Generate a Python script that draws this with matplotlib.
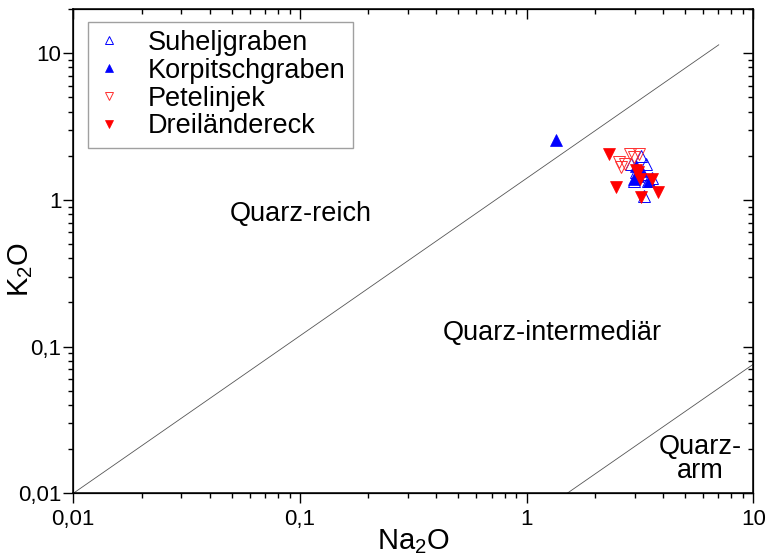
import matplotlib.pyplot as plt

plt.rcParams['font.family'] = ['Liberation Sans', 'DejaVu Sans']
plt.rcParams['mathtext.fontset'] = 'custom'
plt.rcParams['mathtext.rm'] = 'Liberation Sans'

# Na2O / K2O (wt%) per locality
suhel_na = [3.19, 3.37, 2.90, 2.98, 3.44, 3.30, 3.59, 3.05, 3.25]
suhel_k = [2.00, 1.76, 1.76, 1.34, 1.34, 1.07, 1.42, 1.55, 1.50]

korp_na = [1.35, 3.04, 2.98, 3.47, 3.19, 3.10]
korp_k = [2.56, 1.71, 1.39, 1.34, 1.58, 1.45]

petel_na = [2.85, 3.14, 2.73, 2.62, 2.98, 2.55]
petel_k = [2.04, 2.04, 1.76, 1.67, 1.95, 1.80]

drei_na = [2.30, 2.47, 3.78, 3.19, 3.57, 3.11, 3.05, 3.17]
drei_k = [2.06, 1.23, 1.14, 1.04, 1.39, 1.54, 1.60, 1.39]

# field boundaries
upper_na = [0.01, 7.04]
upper_k = [0.01, 11.4]
lower_na = [1.51, 10.0]
lower_k = [0.01, 0.0758]

ticks = [0.01, 0.1, 1, 10]
tick_labels = ['0,01', '0,1', '1', '10']

fig = plt.figure(figsize=(7.7, 5.56), dpi=100)
ax = fig.add_axes([0.0952, 0.1128, 0.8831, 0.8710])

ax.plot(upper_na, upper_k, color='#555555', lw=0.6)
ax.plot(lower_na, lower_k, color='#555555', lw=0.6)

ms = 8.8
ax.plot(suhel_na, suhel_k, '^', ls='none', ms=ms, mfc='none', mec='#0000ff', mew=0.7, label='Suheljgraben')
ax.plot(korp_na, korp_k, '^', ls='none', ms=ms, mfc='#0000ff', mec='#0000ff', mew=0.5, label='Korpitschgraben')
ax.plot(petel_na, petel_k, 'v', ls='none', ms=ms, mfc='none', mec='#ff3030', mew=0.7, label='Petelinjek')
ax.plot(drei_na, drei_k, 'v', ls='none', ms=ms, mfc='#ff0000', mec='#ff0000', mew=0.5, label='Dreiländereck')

ax.set_xscale('log')
ax.set_yscale('log')
ax.set_xlim(0.01, 10)
ax.set_ylim(0.01, 20)
ax.set_xticks(ticks, tick_labels, fontsize=16)
ax.set_yticks(ticks, tick_labels, fontsize=16)
ax.tick_params(which='major', direction='out', length=7, width=1, pad=1.5)
ax.tick_params(which='minor', direction='out', length=3.5, width=1)
ax.tick_params(axis='x', which='major', pad=4)
for sp in ax.spines.values():
    sp.set_linewidth(1.1)

# inward ticks on the top and right edges
axr = ax.twinx()
axr.set_yscale('log')
axr.set_ylim(0.01, 20)
axr.set_yticks(ticks)
axr.tick_params(which='both', direction='in', labelright=False, width=1)
axr.tick_params(which='major', length=7)
axr.tick_params(which='minor', length=3.5)
axt = ax.twiny()
axt.set_xscale('log')
axt.set_xlim(0.01, 10)
axt.set_xticks(ticks)
axt.tick_params(which='both', direction='in', labeltop=False, width=1)
axt.tick_params(which='major', length=7)
axt.tick_params(which='minor', length=3.5)

ax.set_xlabel(r'Na$_{\rm 2}$O', fontsize=21)
ax.set_ylabel(r'K$_{\rm 2}$O', fontsize=21)
ax.xaxis.set_label_coords(0.5, -0.07)
ax.yaxis.set_label_coords(-0.056, 0.462)

ax.text(0.1004, 0.807, 'Quarz-reich', fontsize=19.5, ha='center', va='center')
ax.text(1.304, 0.123, 'Quarz-intermediär', fontsize=19.5, ha='center', va='center')
ax.text(5.82, 0.0171, 'Quarz-\narm', fontsize=19.5, ha='center', va='center', linespacing=0.9)

leg = ax.legend(loc='upper left', bbox_to_anchor=(0.0212, 0.974), borderaxespad=0,
                fontsize=19.5, markerscale=0.65, fancybox=False, edgecolor='#888888',
                handlelength=1.0, handletextpad=0.9, labelspacing=0.07, borderpad=0.3,
                numpoints=1)
leg.get_frame().set_linewidth(1.0)

fig.savefig('out.png', dpi=100)
